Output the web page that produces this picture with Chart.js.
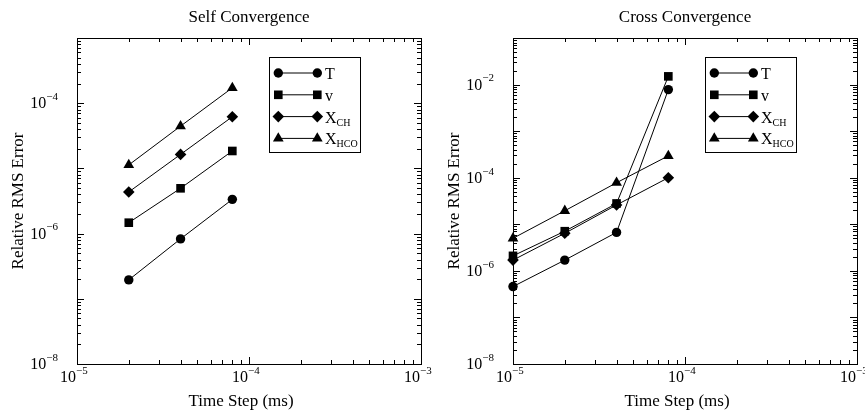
<!DOCTYPE html>
<html>
<head>
<meta charset="utf-8">
<script src="https://cdn.jsdelivr.net/npm/chart.js@4.4.1/dist/chart.umd.min.js"></script>
<style>
    html, body { margin: 0; padding: 0; background: #fff; }
    #wrap { position: relative; width: 865px; height: 414px; overflow: hidden; }
    .box { position: absolute; top: 0; height: 414px; }
</style>
</head>
<body>
<div id="wrap">
    <div class="box" style="left:0;width:432px"><canvas id="js--chart--self"></canvas></div>
    <div class="box" style="left:432px;width:433px"><canvas id="js--chart--cross"></canvas></div>
</div>
<script>
// data (log-log)
const seriesNames = ['T', 'v', 'X', 'X'];
const seriesSubs = ['', '', 'CH', 'HCO'];

const selfSteps = [2e-5, 4e-5, 8e-5];
const selfT = [1.95e-7, 8.3e-7, 3.35e-6];
const selfV = [1.47e-6, 4.95e-6, 1.85e-5];
const selfXCH = [4.35e-6, 1.64e-5, 6.2e-5];
const selfXHCO = [1.13e-5, 4.45e-5, 1.72e-4];

const crossSteps = [1e-5, 2e-5, 4e-5, 8e-5];
const crossT = [4.6e-7, 1.7e-6, 6.7e-6, 7.8e-3];
const crossV = [2.1e-6, 7.1e-6, 2.8e-5, 1.5e-2];
const crossXCH = [1.7e-6, 6.4e-6, 2.6e-5, 1.0e-4];
const crossXHCO = [5.0e-6, 1.95e-5, 7.8e-5, 2.95e-4];

// tick labels (powers of ten)
const xTickLabels = [1e-5, 1e-4, 1e-3];
const selfYTickLabels = [1e-8, 1e-6, 1e-4];
const crossYTickLabels = [1e-8, 1e-6, 1e-4, 1e-2];

// marker styles
const pointStyles = ['circle', 'rect', 'rectRot', 'triangle'];
const pointSizes = [4.7, 6.1, 5.8, 6.2];

const FONT = '"Liberation Serif", "Times New Roman", serif';

function makeDatasets(steps, series) {
    return series.map((vals, i) => ({
        label: seriesNames[i] + seriesSubs[i],
        data: vals.map((v, j) => ({x: steps[j], y: v})),
        borderColor: '#000',
        backgroundColor: '#000',
        borderWidth: 1,
        pointStyle: pointStyles[i],
        pointRadius: pointSizes[i],
        pointBorderWidth: 0,
        pointBackgroundColor: '#000',
        tension: 0,
        clip: false
    }));
}

function decadeTicks(min, max) {
    const out = [];
    const e0 = Math.round(Math.log10(min)), e1 = Math.round(Math.log10(max));
    for (let e = e0; e <= e1; e++) {
        for (let k = 1; k <= 9; k++) {
            const v = k * Math.pow(10, e);
            if (v > max * 1.0001) break;
            out.push({v: v, major: k === 1});
        }
    }
    return out;
}

function drawPower(ctx, value, x, y, alignBase) {
    const exp = Math.round(Math.log10(value));
    const base = '10', sup = (exp < 0 ? '\u2212' : '') + Math.abs(exp);
    ctx.font = '16px ' + FONT;
    const wb = ctx.measureText(base).width;
    ctx.font = '11px ' + FONT;
    const ws = ctx.measureText(sup).width;
    const x0 = alignBase ? x - wb : x - wb - ws;
    ctx.textAlign = 'left';
    ctx.textBaseline = 'middle';
    ctx.font = '16px ' + FONT;
    ctx.fillText(base, x0, y);
    ctx.font = '11px ' + FONT;
    ctx.fillText(sup, x0 + wb, y - 7);
}

function drawMarker(ctx, style, r, x, y) {
    if (Chart.helpers && Chart.helpers.drawPoint) {
        Chart.helpers.drawPoint(ctx, {pointStyle: style, radius: r, rotation: 0, borderWidth: 0}, x, y);
    } else {
        ctx.beginPath(); ctx.arc(x, y, r, 0, Math.PI * 2); ctx.fill();
    }
}

const framePlugin = {
    id: 'frame',
    afterDraw(chart, args, opts) {
        const {ctx, chartArea: a} = chart;
        const xs = chart.scales.x, ys = chart.scales.y;
        ctx.save();
        ctx.strokeStyle = '#000';
        ctx.fillStyle = '#000';
        ctx.lineWidth = 1;

        // box round the plot
        ctx.strokeRect(a.left + 0.5, a.top + 0.5, a.right - a.left, a.bottom - a.top);

        // inward ticks on all four sides
        ctx.beginPath();
        decadeTicks(xs.min, xs.max).forEach(t => {
            const px = Math.round(xs.getPixelForValue(t.v)) + 0.5;
            const len = t.major ? 7 : 4;
            ctx.moveTo(px, a.bottom); ctx.lineTo(px, a.bottom - len);
            ctx.moveTo(px, a.top); ctx.lineTo(px, a.top + len);
        });
        decadeTicks(ys.min, ys.max).forEach(t => {
            const py = Math.round(ys.getPixelForValue(t.v)) + 0.5;
            const len = t.major ? 7 : 4;
            ctx.moveTo(a.left, py); ctx.lineTo(a.left + len, py);
            ctx.moveTo(a.right, py); ctx.lineTo(a.right - len, py);
        });
        ctx.stroke();

        // tick labels
        opts.xLabels.forEach(v => drawPower(ctx, v, xs.getPixelForValue(v) - 1, a.bottom + 14, true));
        opts.yLabels.forEach(v => drawPower(ctx, v, a.left - 19, ys.getPixelForValue(v) + 1, false));

        // axis titles
        ctx.font = '17px ' + FONT;
        ctx.textAlign = 'center';
        ctx.textBaseline = 'middle';
        ctx.fillText('Time Step (ms)', (a.left + a.right) / 2 - 8, 402);
        ctx.save();
        ctx.translate(a.left - 58.5, (a.top + a.bottom) / 2);
        ctx.rotate(-Math.PI / 2);
        ctx.fillText('Relative RMS Error', 0, 0);
        ctx.restore();

        // legend: line with a marker at each end
        const bx = a.left + 192, by = 57;
        ctx.strokeRect(bx + 0.5, by + 0.5, 91, 95);
        chart.data.datasets.forEach((ds, i) => {
            const ry = by + 16 + i * 21.8;
            ctx.beginPath();
            ctx.moveTo(bx + 9, ry); ctx.lineTo(bx + 48, ry);
            ctx.stroke();
            drawMarker(ctx, pointStyles[i], pointSizes[i], bx + 9.3, ry);
            drawMarker(ctx, pointStyles[i], pointSizes[i], bx + 48.3, ry);
            ctx.textAlign = 'left';
            ctx.textBaseline = 'alphabetic';
            ctx.font = '16px ' + FONT;
            ctx.fillText(seriesNames[i], bx + 56, ry + 6);
            if (seriesSubs[i]) {
                const w = ctx.measureText(seriesNames[i]).width;
                ctx.font = '10px ' + FONT;
                ctx.fillText(seriesSubs[i], bx + 56 + w, ry + 9);
            }
        });
        ctx.restore();
    }
};

function makeChart(id, title, steps, series, yMax, yLabels, pad) {
    return new Chart(document.getElementById(id), {
        type: 'line',
        data: { datasets: makeDatasets(steps, series) },
        plugins: [framePlugin],
        options: {
            responsive: true,
            maintainAspectRatio: false,
            animation: false,
            layout: { padding: pad },
            scales: {
                x: { type: 'logarithmic', min: 1e-5, max: 1e-3, display: false },
                y: { type: 'logarithmic', min: 1e-8, max: yMax, display: false }
            },
            plugins: {
                legend: { display: false },
                tooltip: { enabled: false },
                title: {
                    display: true,
                    text: title,
                    color: '#000',
                    font: { family: FONT, size: 17, weight: 'normal' },
                    padding: { top: 7.8, bottom: 9.8 }
                },
                frame: { xLabels: xTickLabels, yLabels: yLabels }
            }
        }
    });
}

makeChart('js--chart--self', 'Self Convergence', selfSteps,
    [selfT, selfV, selfXCH, selfXHCO], 1e-3, selfYTickLabels,
    { left: 77, right: 11, top: 0, bottom: 50 });

makeChart('js--chart--cross', 'Cross Convergence', crossSteps,
    [crossT, crossV, crossXCH, crossXHCO], 1e-1, crossYTickLabels,
    { left: 81, right: 8, top: 0, bottom: 50 });
</script>
</body>
</html>
